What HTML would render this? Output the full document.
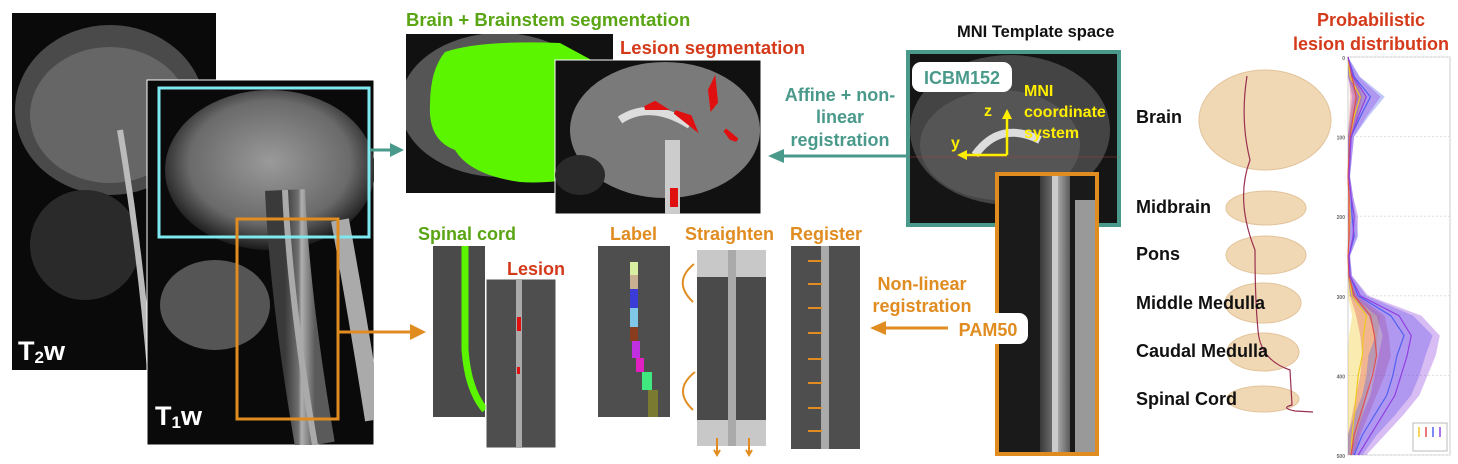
<!DOCTYPE html>
<html><head><meta charset="utf-8">
<style>
html,body{margin:0;padding:0;background:#fff;width:1458px;height:464px;overflow:hidden}
svg{display:block}
text{font-family:"Liberation Sans",Arial,sans-serif;font-weight:bold}
</style></head>
<body>
<svg width="1458" height="464" viewBox="0 0 1458 464" xmlns="http://www.w3.org/2000/svg">
<defs>
<radialGradient id="brainG" cx="50%" cy="45%" r="55%"><stop offset="0" stop-color="#9a9a9a"/><stop offset="0.7" stop-color="#6a6a6a"/><stop offset="1" stop-color="#1a1a1a"/></radialGradient>
<linearGradient id="spineG" x1="0" x2="1"><stop offset="0" stop-color="#3a3a3a"/><stop offset="0.45" stop-color="#707070"/><stop offset="0.55" stop-color="#b0b0b0"/><stop offset="1" stop-color="#5a5a5a"/></linearGradient>
<clipPath id="cT2"><rect x="12" y="13" width="204" height="357"/></clipPath>
<clipPath id="cT1"><rect x="147" y="80" width="227" height="365"/></clipPath>
<clipPath id="cBS"><rect x="406" y="34" width="207" height="159"/></clipPath>
<clipPath id="cLS"><rect x="555" y="60" width="206" height="154"/></clipPath>
<clipPath id="cMNI"><rect x="908" y="52" width="211" height="173"/></clipPath>
</defs>

<!-- T2w image -->
<g>
<rect x="12" y="13" width="204" height="357" fill="#0a0a0a"/>
<g clip-path="url(#cT2)">
<ellipse cx="110" cy="110" rx="95" ry="85" fill="#4a4a4a"/>
<ellipse cx="110" cy="115" rx="80" ry="68" fill="#666"/>
<ellipse cx="85" cy="245" rx="55" ry="55" fill="#2a2a2a"/>
<path d="M120 130 Q140 250 150 370" stroke="#bbb" stroke-width="6" fill="none"/>
</g>
<text x="18" y="360" font-size="27" font-weight="normal" fill="#fff">T<tspan font-size="17" dy="3">2</tspan><tspan dy="-3">w</tspan></text>
</g>

<!-- T1w image -->
<g>
<rect x="147" y="80" width="227" height="365" fill="#0a0a0a" stroke="#fff" stroke-width="1"/>
<g clip-path="url(#cT1)">
<ellipse cx="270" cy="170" rx="105" ry="80" fill="url(#brainG)"/>
<ellipse cx="215" cy="305" rx="55" ry="45" fill="#555"/>
<path d="M285 190 Q290 300 315 445" stroke="url(#spineG)" stroke-width="40" fill="none"/>
<path d="M285 190 Q290 300 315 445" stroke="#aaa" stroke-width="6" fill="none"/>
<path d="M340 220 Q360 330 374 420" stroke="#aaa" stroke-width="18" fill="none"/>
</g>
<text x="155" y="425" font-size="27" font-weight="normal" fill="#fff">T<tspan font-size="17" dy="3">1</tspan><tspan dy="-3">w</tspan></text>
</g>
<rect x="159" y="88" width="210" height="149" fill="none" stroke="#7fe8f0" stroke-width="3"/>
<rect x="237" y="219" width="101" height="200" fill="none" stroke="#e08c20" stroke-width="3"/>
<g><line x1="370" y1="150" x2="392" y2="150" stroke="#4a9a8c" stroke-width="3"/><polygon points="390,143 404,150 390,157" fill="#4a9a8c"/></g>
<g><line x1="338" y1="332" x2="412" y2="332" stroke="#e08c20" stroke-width="3"/><polygon points="410,324 426,332 410,340" fill="#e08c20"/></g>

<!-- Brain segmentation -->
<text x="406" y="26" font-size="18.5" fill="#5aa514">Brain + Brainstem segmentation</text>
<g>
<rect x="406" y="34" width="207" height="159" fill="#111"/>
<g clip-path="url(#cBS)">
<ellipse cx="500" cy="105" rx="100" ry="72" fill="#555"/>
<path d="M445 52 Q480 40 560 43 L610 70 L610 170 Q560 185 520 182 Q470 175 455 150 Q428 140 430 105 Q430 70 445 52Z" fill="#5cf500"/>
</g>
</g>
<text x="620" y="54" font-size="18.5" fill="#d43a1a">Lesion segmentation</text>
<g>
<rect x="555" y="60" width="206" height="154" fill="#111" stroke="#fff" stroke-width="1"/>
<g clip-path="url(#cLS)">
<ellipse cx="665" cy="130" rx="95" ry="68" fill="#7a7a7a"/>
<path d="M620 120 Q650 100 690 125" stroke="#ddd" stroke-width="8" fill="none"/>
<rect x="665" y="140" width="15" height="74" fill="#ccc"/>
<ellipse cx="580" cy="175" rx="25" ry="20" fill="#2a2a2a"/>
<path d="M645 108 l10 -5 l8 5z M675 112 l15 5 l4 10z M710 90 l4 -8 l2 20 l-4 5z M725 130 l6 8 l6 2z M672 190 l4 0 l0 15 l-4 0z" fill="#e01010" stroke="#e01010" stroke-width="4"/>
</g>
</g>

<!-- Affine registration -->
<text font-size="18" fill="#4a9a8c" text-anchor="middle"><tspan x="840" y="101">Affine + non-</tspan><tspan x="840" y="123">linear</tspan><tspan x="840" y="146">registration</tspan></text>
<g><line x1="906" y1="156" x2="782" y2="156" stroke="#4a9a8c" stroke-width="3"/><polygon points="784,149 768,156 784,163" fill="#4a9a8c"/></g>

<!-- MNI -->
<text x="957" y="37" font-size="16.5" fill="#111">MNI Template space</text>
<g>
<rect x="908" y="52" width="211" height="173" fill="#151515" stroke="#4a9a8c" stroke-width="4"/>
<g clip-path="url(#cMNI)">
<ellipse cx="1010" cy="130" rx="100" ry="75" fill="#444"/>
<ellipse cx="1000" cy="145" rx="80" ry="55" fill="#555"/>
<path d="M975 155 Q1000 120 1040 140" stroke="#ddd" stroke-width="8" fill="none"/>
<line x1="908" y1="157" x2="1119" y2="157" stroke="#a04040" stroke-width="0.6"/>
</g>
</g>
<rect x="912" y="62" width="100" height="30" rx="9" fill="#fff"/>
<text x="962" y="84" font-size="18" fill="#4a9a8c" text-anchor="middle">ICBM152</text>
<g>
<line x1="1007" y1="155" x2="1007" y2="117" stroke="#ffee00" stroke-width="2.5"/><polygon points="1002,119 1007,109 1012,119" fill="#ffee00"/>
<line x1="1007" y1="155" x2="965" y2="155" stroke="#ffee00" stroke-width="2.5"/><polygon points="967,150 957,155 967,160" fill="#ffee00"/>
<text x="984" y="116" font-size="16" font-weight="normal" fill="#ffee00">z</text>
<text x="951" y="148" font-size="16" font-weight="normal" fill="#ffee00">y</text>
<text font-size="16" font-weight="normal" fill="#ffee00"><tspan x="1024" y="96">MNI</tspan><tspan x="1024" y="117">coordinate</tspan><tspan x="1024" y="138">system</tspan></text>
</g>
<g>
<rect x="997" y="174" width="100" height="280" fill="#1a1a1a"/>
<rect x="1040" y="174" width="30" height="280" fill="url(#spineG)"/>
<rect x="1052" y="174" width="6" height="280" fill="#ccc"/>
<rect x="1075" y="200" width="22" height="254" fill="#999"/>
<rect x="997" y="174" width="100" height="280" fill="none" stroke="#e08c20" stroke-width="4"/>
</g>
<rect x="948" y="313" width="80" height="31" rx="9" fill="#fff"/>
<text x="988" y="336" font-size="18" fill="#e08c20" text-anchor="middle">PAM50</text>
<text font-size="18" fill="#e08c20" text-anchor="middle"><tspan x="922" y="290">Non-linear</tspan><tspan x="922" y="312">registration</tspan></text>
<g><line x1="948" y1="328" x2="884" y2="328" stroke="#e08c20" stroke-width="3"/><polygon points="886,321 870,328 886,335" fill="#e08c20"/></g>

<!-- Spinal cord panels -->
<text x="418" y="240" font-size="18" fill="#5aa514">Spinal cord</text>
<g>
<rect x="433" y="246" width="52" height="171" fill="#4a4a4a"/>
<path d="M465 246 L465 350 Q468 390 485 410" stroke="#5cf500" stroke-width="7" fill="none"/>
</g>
<text x="507" y="275" font-size="18" fill="#d43a1a">Lesion</text>
<g>
<rect x="486" y="279" width="70" height="169" fill="#4e4e4e" stroke="#fff" stroke-width="1"/>
<rect x="516" y="279" width="6" height="169" fill="#aaa"/>
<rect x="517" y="317" width="4" height="14" fill="#e01010"/>
<rect x="517" y="367" width="3" height="7" fill="#e01010"/>
</g>
<text x="610" y="240" font-size="18" fill="#e08c20">Label</text>
<g>
<rect x="598" y="246" width="72" height="171" fill="#4e4e4e"/>
<rect x="630" y="262" width="8" height="13" fill="#d8eea0"/>
<rect x="630" y="275" width="8" height="14" fill="#c8b090"/>
<rect x="630" y="289" width="8" height="19" fill="#3b3bd8"/>
<rect x="630" y="308" width="8" height="19" fill="#80c8e8"/>
<rect x="630" y="327" width="8" height="14" fill="#8a3c1e"/>
<rect x="632" y="341" width="8" height="17" fill="#c030e0"/>
<rect x="636" y="358" width="8" height="14" fill="#e020c0"/>
<rect x="642" y="372" width="10" height="18" fill="#40e880"/>
<rect x="648" y="390" width="10" height="27" fill="#7a7a30"/>
</g>
<text x="685" y="240" font-size="18" fill="#e08c20">Straighten</text>
<g>
<rect x="697" y="250" width="69" height="196" fill="#c8c8c8"/>
<rect x="697" y="277" width="69" height="143" fill="#4a4a4a"/>
<rect x="728" y="250" width="8" height="196" fill="#aaa"/>
<path d="M694 264 Q672 282 693 302" stroke="#e08c20" stroke-width="2" fill="none"/>
<path d="M695 372 Q672 390 693 410" stroke="#e08c20" stroke-width="2" fill="none"/>
<path d="M717 438 v16 M714 450 l3 5 l3 -5 M749 438 v16 M746 450 l3 5 l3 -5" stroke="#e08c20" stroke-width="2" fill="none"/>
</g>
<text x="790" y="240" font-size="18" fill="#e08c20">Register</text>
<g>
<rect x="791" y="246" width="69" height="203" fill="#4e4e4e"/>
<rect x="821" y="246" width="8" height="203" fill="#aaa"/>
<g stroke="#e08c20" stroke-width="2">
<line x1="808" y1="261" x2="822" y2="261"/><line x1="808" y1="284" x2="822" y2="284"/><line x1="808" y1="308" x2="822" y2="308"/><line x1="808" y1="333" x2="822" y2="333"/><line x1="808" y1="359" x2="822" y2="359"/><line x1="808" y1="383" x2="822" y2="383"/><line x1="808" y1="408" x2="822" y2="408"/><line x1="808" y1="431" x2="822" y2="431"/>
</g>
</g>

<!-- Anatomy illustrations -->
<g fill="#f1d8b4" stroke="#e2c39a" stroke-width="1">
<ellipse cx="1265" cy="120" rx="66" ry="50"/>
<ellipse cx="1266" cy="208" rx="40" ry="17"/>
<ellipse cx="1266" cy="255" rx="40" ry="19"/>
<ellipse cx="1263" cy="303" rx="38" ry="20"/>
<ellipse cx="1263" cy="352" rx="36" ry="19"/>
<ellipse cx="1263" cy="399" rx="36" ry="13"/>
<path d="M1247 76 Q1240 120 1250 160 Q1235 200 1255 250 Q1255 300 1258 330 Q1260 360 1290 370 L1292 405 Q1280 408 1295 411 L1313 412" fill="none" stroke="#9a3050" stroke-width="1.2"/>
</g>
<g font-size="18" fill="#111">
<text x="1136" y="123">Brain</text>
<text x="1136" y="213">Midbrain</text>
<text x="1136" y="260">Pons</text>
<text x="1136" y="309">Middle Medulla</text>
<text x="1136" y="357">Caudal Medulla</text>
<text x="1136" y="405">Spinal Cord</text>
</g>

<!-- Chart -->
<text font-size="18" fill="#d43a1a" text-anchor="middle"><tspan x="1371" y="26">Probabilistic</tspan><tspan x="1371" y="50">lesion distribution</tspan></text>
<g id="chart"></g>
</svg>
<script>
const slices=[0,25,50,75,100,125,150,175,200,225,250,275,300,325,350,375,400,425,450,475,500];
const seriesA=[0,2,12,6,2,1,0,1,2,1,0,1,4,18,15,14,10,8,6,4,3];
const seriesB=[0,4,8,5,2,1,0,1,1,1,0,1,6,22,26,28,24,18,12,6,3];
const seriesC=[0,6,22,12,3,2,1,3,4,6,1,2,10,42,55,48,44,38,26,14,6];
const seriesD=[0,5,18,10,3,2,1,3,6,5,1,2,12,50,62,58,52,46,34,22,10];
const spreadA=[0,3,6,4,2,1,0,1,1,1,0,1,4,14,14,14,12,10,8,6,4];
const spreadD=[0,6,14,8,3,2,1,2,4,4,1,2,8,22,28,28,26,24,20,14,8];
const yTicks=[0,100,200,300,400,500];
const colors=['#f0c820','#e05050','#5060f0','#9040e0'];
const series=[seriesA,seriesB,seriesC,seriesD];
const spreads=[spreadA,spreadA,spreadD,spreadD];
const X0=1348,X1=1450,Y0=57,Y1=455;
const xs=v=>X0+v/100*(X1-X0);
const ys=s=>Y0+s/500*(Y1-Y0);
const g=document.getElementById('chart');
const NS='http://www.w3.org/2000/svg';
function mk(t,a){const e=document.createElementNS(NS,t);for(const k in a)e.setAttribute(k,a[k]);g.appendChild(e);return e;}
const frame=mk('rect',{x:X0,y:Y0,width:X1-X0,height:Y1-Y0,fill:'#fff',stroke:'#ccc','stroke-width':1});


yTicks.forEach(t=>{
 const l=mk('line',{x1:X0,x2:X1,y1:ys(t),y2:ys(t),stroke:'#ddd','stroke-dasharray':'2,2'});
 
 
 const tx=mk('text',{x:X0-3,y:ys(t)+3,'font-size':5,fill:'#666','text-anchor':'end','font-weight':'normal'});
 tx.textContent=t;
 
 
});
series.forEach((s,i)=>{
 const sp=spreads[i];
 let up=slices.map((y,j)=>xs(Math.max(0,s[j]-sp[j]))+','+ys(y));
 let dn=slices.map((y,j)=>xs(s[j]+sp[j])+','+ys(y)).reverse();
 const a=mk('polygon',{points:up.concat(dn).join(' '),fill:colors[i],opacity:0.35});
 
 
});
series.forEach((s,i)=>{
 const l=mk('polyline',{points:slices.map((y,j)=>xs(s[j])+','+ys(y)).join(' '),fill:'none',stroke:colors[i],'stroke-width':1.2});
 
 
});
const lg=mk('rect',{x:1413,y:423,width:34,height:28,fill:'#fff',stroke:'#bbb'});


colors.forEach((c,i)=>{
 const e=mk('line',{x1:1419+i*7,x2:1419+i*7,y1:427,y2:437,stroke:c,'stroke-width':1.5});
 
 
});
</script>
</body></html>
